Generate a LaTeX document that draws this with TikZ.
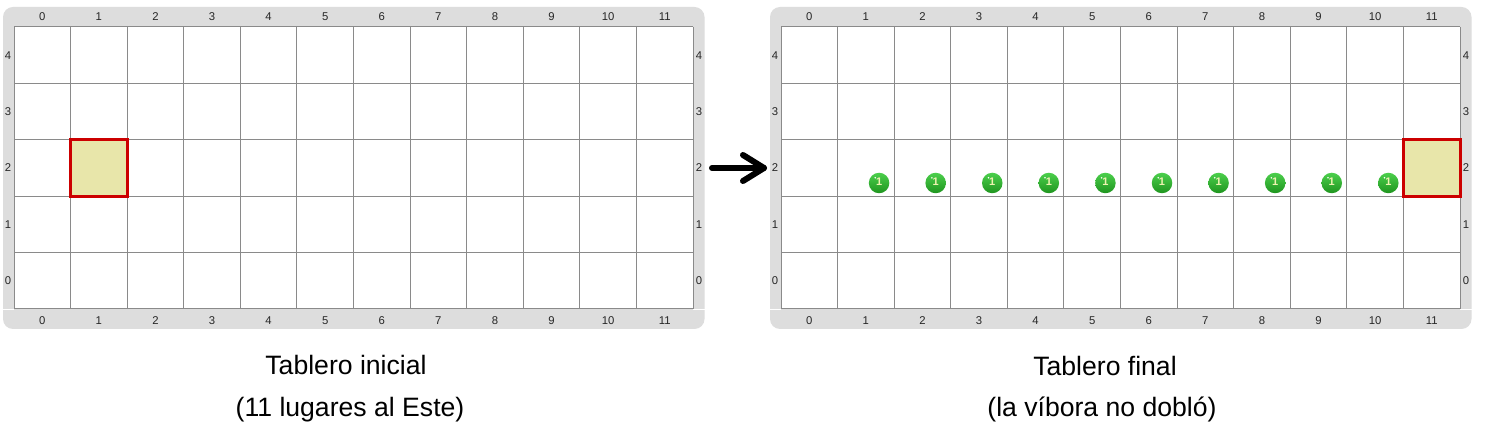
\documentclass[tikz,border=0pt]{standalone}
\usepackage{fontspec}
\setmainfont{Liberation Sans}
\definecolor{boardgray}{HTML}{DDDDDD}
\definecolor{gridgray}{HTML}{8A8A8A}
\definecolor{numcol}{HTML}{262626}
\definecolor{cellfill}{HTML}{E8E6AA}
\definecolor{hlred}{HTML}{CC0000}
\definecolor{balltop}{HTML}{4CCF4C}
\definecolor{ballbot}{HTML}{1F951F}
\definecolor{ballnum}{HTML}{EEF2B0}
\tikzset{
  numlbl/.style={font=\fontsize{11.3}{11}\selectfont, text=numcol, inner sep=0pt},
  caption/.style={font=\fontsize{26.6}{30}\selectfont, anchor=base, inner sep=0pt},
  gridline/.style={draw=gridgray, line width=1pt},
  hlcell/.style={fill=cellfill, draw=hlred, line width=3pt},
  coin/.style={circle, minimum size=20.5pt, inner sep=0pt, top color=balltop, bottom color=ballbot, text=ballnum, font=\fontsize{11}{11}\selectfont\bfseries},
  bigarrow/.style={line width=6pt, line cap=round, line join=round},
}
\newcommand\myboard[2]{%
  \fill[boardgray, rounded corners=10pt] (#1,7) rectangle ({#1+701.5},329);
  \fill[white] ({#1+11},27) rectangle ({#1+690},309);
  \draw[white, line width=1pt] (#1,309.5) -- ({#1+11},309.5) ({#1+690},309.5) -- ({#1+701.5},309.5);
  \foreach \c in {0,...,12} \draw[gridline] ({#1+11+56.583*\c},27) -- ({#1+11+56.583*\c},309);
  \foreach \r in {0,...,5} \draw[gridline] ({#1+11},{27+56.4*\r}) -- ({#1+690},{27+56.4*\r});
  \foreach \c in {0,...,11} {
    \node[numlbl] (#2-t\c) at ({#1+11+56.583*(\c+0.5)},17) {\c};
    \node[numlbl] (#2-b\c) at ({#1+11+56.583*(\c+0.5)},321) {\c};
  }
  \foreach \r in {0,...,4} {
    \node[numlbl] (#2-l\r) at ({#1+5},{27+56.4*(4.5-\r)}) {\r};
    \node[numlbl] (#2-r\r) at ({#1+696},{27+56.4*(4.5-\r)}) {\r};
  }
}
\begin{document}
\begin{tikzpicture}[x=1pt,y=-1pt]
\useasboundingbox (0,0) rectangle (1486,443);
\fill[white] (0,0) rectangle (1486,443);
\myboard{3}{L}
\myboard{770}{R}
% highlighted cells
\path[hlcell] ({14+56.583},{27+56.4*2}) rectangle +(56.583,56.4);
\path[hlcell] ({781+56.583*11},{27+56.4*2}) rectangle +(56.583,56.4);
% coins
\foreach \c in {1,...,10} {
  \node[coin] (coin\c) at ({781+56.583*\c+41.5},183) {\raisebox{2.5pt}{1}};
  \fill[white] ([shift={(-3.8,-5.2)}]coin\c.center) circle (0.9);
}
% arrow
\coordinate (arrS) at (712,168);
\coordinate (arrE) at (764,168);
\draw[bigarrow] (arrS) -- (arrE);
\draw[bigarrow] ([shift={(-21,-13)}]arrE) -- (arrE) -- ([shift={(-21,13)}]arrE);
% captions
\node[caption] (cap1a) at (346,375) {Tablero inicial};
\node[caption] (cap1b) at (350,417) {(11 lugares al Este)};
\node[caption] (cap2a) at (1105,376) {Tablero final};
\node[caption] (cap2b) at (1102,417) {(la víbora no dobló)};
\end{tikzpicture}
\end{document}
